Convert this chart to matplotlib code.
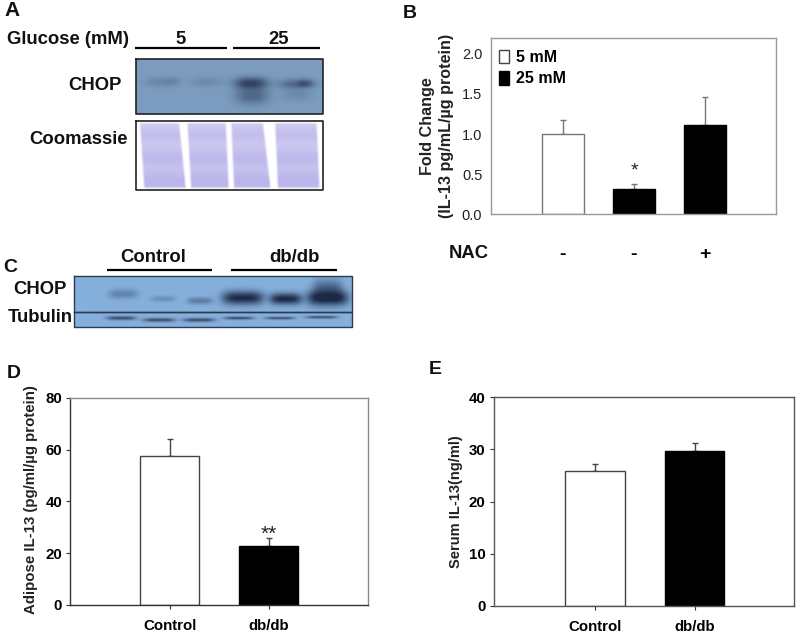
import numpy as np
import matplotlib
matplotlib.use("Agg")
import matplotlib.pyplot as plt
from matplotlib.patches import Patch

plt.rcParams['font.family'] = ['Liberation Sans', 'DejaVu Sans']

# Panel B
b_labels = ['-', '-', '+']
b_values = [1.0, 0.32, 1.11]
b_err_tops = [1.18, 0.38, 1.46]
b_colors = ['white', 'black', 'black']
b_ticks = [0.0, 0.5, 1.0, 1.5, 2.0]
# Panel D
d_labels = ['Control', 'db/db']
d_values = [57.5, 22.7]
d_err_tops = [64.0, 25.7]
d_ticks = [0, 20, 40, 60, 80]
# Panel E
e_labels = ['Control', 'db/db']
e_values = [25.9, 29.6]
e_err_tops = [27.2, 31.3]
e_ticks = [0, 10, 20, 30, 40]

W, H = 800, 635
fig = plt.figure(figsize=(W / 100, H / 100), dpi=100)

def px_axes(l, t, r, b, **kw):
    return fig.add_axes([l / W, 1 - b / H, (r - l) / W, (b - t) / H], **kw)

ov = fig.add_axes([0, 0, 1, 1])
ov.set_axis_off()

def T(x, y, s, size=13.3, ha='center', va='center', weight='bold', **kw):
    ov.text(x, y, s, fontsize=size, ha=ha, va=va, fontweight=weight, color=kw.pop('color', '#111111'), **kw)

def blot(l, t, r, b, base, dark, bands, edge='#222222', p=2.6, lw=1.2):
    w, h = int(r - l), int(b - t)
    yy, xx = np.mgrid[t:b:complex(0, h), l:r:complex(0, w)]
    inten = np.zeros_like(xx)
    for cx, cy, sx, sy, amp in bands:
        inten += amp * np.exp(-np.abs((xx - cx) / sx) ** p - ((yy - cy) / sy) ** 2)
    inten = np.clip(inten, 0, 1)[..., None]
    img = (1 - inten) * np.array(base) + inten * np.array(dark)
    ov.imshow(img, extent=(l, r, b, t), aspect='auto', interpolation='bilinear')
    ov.plot([l, r, r, l, l], [t, t, b, b, t], color=edge, lw=lw)

base_a = np.array([124, 157, 192]) / 255
dark_a = np.array([35, 50, 80]) / 255
blot(136, 59, 323, 114, base_a, dark_a, [
    (161, 82, 16, 5, 0.22), (173, 81, 7, 4, 0.12),
    (207, 82, 16, 5, 0.17),
    (251, 83, 17, 6, 0.8), (252, 96, 17, 9, 0.5),
    (297, 84, 18, 5, 0.5), (306, 83, 8, 4, 0.3), (297, 95, 15, 6, 0.18),
])

# Coomassie gel: lane edges at top and bottom of the gel
lanes = [(138.5, 180, 143, 187), (186, 227, 190, 230), (230, 264, 233, 272), (274, 318, 277, 321)]
l, t, r, b = 136, 121, 323, 190
yy, xx = np.mgrid[t:b:140j, l:r:380j]
gel = np.ones(xx.shape + (3,))
lav = np.array([176, 170, 232]) / 255
f = (yy - 121) / 69
stripe = 0.66 + 0.06 * np.cos(f * 3 * 2 * np.pi + 2.6) + 0.18 * f
for a0, c0, a1, c1 in lanes:
    a = a0 + (a1 - a0) * f
    c = c0 + (c1 - c0) * f
    m = np.clip((xx - a) / 2.5, 0, 1) * np.clip((c - xx) / 2.5, 0, 1)
    m = m * np.clip((yy - 122) / 2, 0, 1) * np.clip((189 - yy) / 2, 0, 1)
    alpha = (m * stripe)[..., None]
    gel = gel * (1 - alpha) + lav * alpha
ov.imshow(gel, extent=(l, r, b, t), aspect='auto', interpolation='bilinear')
ov.plot([l, r, r, l, l], [t, t, b, b, t], color='#222222', lw=1.2)

# Panel C blot
base_c = np.array([134, 176, 220]) / 255
dark_c = np.array([28, 42, 72]) / 255
blot(74, 276, 352, 312, base_c, dark_c, [
    (123, 294, 15, 5, 0.33), (163, 299, 13, 3, 0.25), (200, 301, 13, 3.5, 0.4),
    (243, 298, 21, 7, 1.0), (286, 299, 16, 6, 1.0), (328, 298, 21, 8, 1.1),
    (328, 286, 15, 8, 0.45),
], edge='#2a3a50', p=4, lw=1.0)
blot(74, 312, 352, 327, base_c, dark_c, [
    (121, 318, 15, 2.2, 0.7), (159, 320, 16, 2.2, 0.7), (199, 320, 16, 2.2, 0.7),
    (239, 318, 15, 1.7, 0.7), (280, 318, 15, 1.6, 0.65), (322, 317, 16, 1.6, 0.65),
], edge='#2a3a50', p=4, lw=1.0)

# Overlay labels and rules
for x0, x1, y in [(135, 227, 48), (233, 320, 48), (107, 212, 269.5), (231, 337, 269.5)]:
    ov.plot([x0, x1], [y, y], color='black', lw=1.6, solid_capstyle='butt')
T(12, 11, 'A', 15)
T(68, 39, 'Glucose (mM)')
T(181, 39, '5')
T(279, 39, '25')
T(95, 85, 'CHOP')
T(78, 139, 'Coomassie')
T(10, 268, 'C', 14)
T(153, 258, 'Control')
T(294, 258, 'db/db')
T(40, 290, 'CHOP')
T(40, 317, 'Tubulin')
T(410, 13, 'B', 14)
T(14, 373, 'D', 14)
T(435, 369, 'E', 14)
T(469, 253, 'NAC')
ov.set_xlim(0, W)
ov.set_ylim(H, 0)

def bars(ax, values, tops, colors, ticks, ylim, xlim, spine, tick_kw, ecolor):
    x = np.arange(len(values))
    ax.bar(x, values, width=0.6, color=colors, edgecolor=[ecolor if c == 'white' else 'black' for c in colors], linewidth=1.0, zorder=2)
    for xi, v, t_ in zip(x, values, tops):
        ax.errorbar(xi, v, yerr=[[0], [t_ - v]], color=ecolor, capsize=2, lw=1.0, capthick=1.0, zorder=1)
    ax.set_xlim(*xlim)
    ax.set_ylim(*ylim)
    ax.set_yticks(ticks)
    for s in ax.spines.values():
        s.set_color(spine)
        s.set_linewidth(1.0)
    ax.tick_params(**tick_kw)
    ax.patch.set_alpha(0)
    return x

# Panel B axes
axb = px_axes(490.7, 37.7, 775.7, 214.3)
xb = bars(axb, b_values, b_err_tops, b_colors, b_ticks, (0, 2.2), (-1.018, 2.996), '#9a9a9a',
          dict(axis='y', length=0, pad=6, labelsize=10.5, labelcolor='#222222'), '#777777')
axb.set_yticklabels([f'{v:.1f}' for v in b_ticks])
axb.set_xticks(xb)
axb.set_xticklabels(b_labels, fontweight='bold', fontsize=14)
axb.tick_params(axis='x', length=0, pad=23)
axb.set_ylabel('Fold Change\n(IL-13 pg/mL/\u00b5g protein)', fontweight='bold', fontsize=11.6, color='#222222', linespacing=1.35)
axb.yaxis.set_label_coords(-0.128, 0.5)
axb.text(xb[1], 0.54, '*', ha='center', va='center', fontsize=14, color='#222222')
axb.legend(handles=[Patch(facecolor='white', edgecolor='#444444', label='5 mM'),
                    Patch(facecolor='black', edgecolor='black', label='25 mM')],
           loc='upper left', bbox_to_anchor=(0.03, 0.93), frameon=False, handlelength=0.6, handleheight=0.9,
           handletextpad=0.45, labelspacing=0.38, borderpad=0, borderaxespad=0, prop={'weight': 'bold', 'size': 11.5})

# Panel D axes
axd = px_axes(70.4, 397.7, 367.9, 605)
xd = bars(axd, d_values, d_err_tops, ['white', 'black'], d_ticks, (0, 80), (-1.0, 2.0), '#8a8a8a',
          dict(axis='both', length=3, width=0.8, pad=3, color='#333333'), '#444444')
axd.spines['left'].set_color('#333333')
axd.spines['bottom'].set_color('#333333')
axd.set_xticks(xd)
axd.set_xticklabels(d_labels, fontweight='bold', fontsize=10.8)
axd.tick_params(axis='x', pad=7)
axd.set_yticklabels(d_ticks, fontweight='bold', fontsize=10.8)
axd.set_ylabel('Adipose IL-13 (pg/ml/\u00b5g protein)', fontweight='bold', fontsize=10.8, labelpad=3, color='#222222')
axd.yaxis.set_label_coords(-0.108, 0.51)
axd.text(xd[1], 27.3, '**', ha='center', va='center', fontsize=15, color='#222222')

# Panel E axes
axe = px_axes(493.9, 397.3, 793.9, 605.7)
xe = bars(axe, e_values, e_err_tops, ['white', 'black'], e_ticks, (0, 40), (-1.02, 2.0), '#555555',
          dict(axis='both', length=3, width=0.8, pad=3, color='#333333'), '#444444')
axe.set_xticks(xe)
axe.set_xticklabels(e_labels, fontweight='bold', fontsize=10.8)
axe.tick_params(axis='x', pad=7)
axe.set_yticklabels(e_ticks, fontweight='bold', fontsize=10.8)
axe.set_ylabel('Serum IL-13(ng/ml)', fontweight='bold', fontsize=10.5, color='#222222')
axe.yaxis.set_label_coords(-0.102, 0.5)

fig.savefig('out.png', dpi=100, facecolor='white')
